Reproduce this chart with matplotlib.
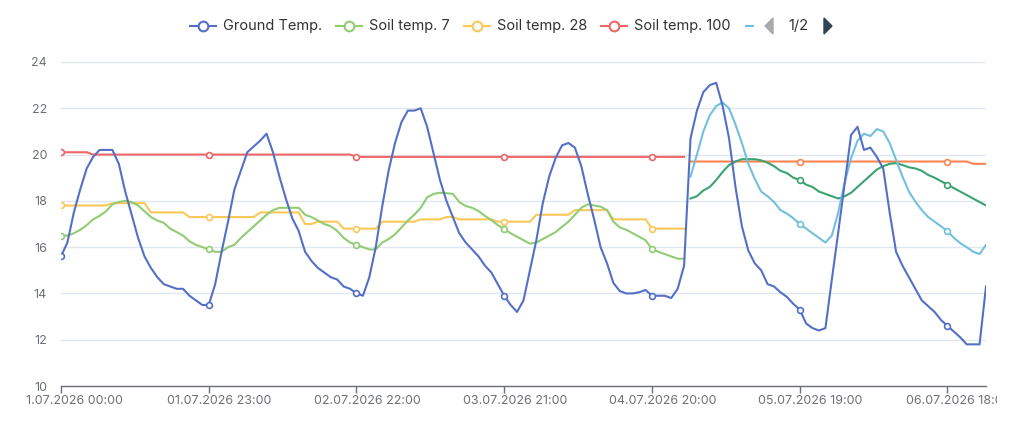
import matplotlib
matplotlib.use('Agg')
import matplotlib.pyplot as plt
from matplotlib.transforms import Bbox
import numpy as np

# hourly samples, 01.07.2026 00:00 .. 07.07.2026 00:00
tick_labels = ['1.07.2026 00:00', '01.07.2026 23:00', '02.07.2026 22:00', '03.07.2026 21:00',
               '04.07.2026 20:00', '05.07.2026 19:00', '06.07.2026 18:00']

ground_temp = [15.6, 16.2, 17.5, 18.5, 19.4, 19.9, 20.2, 20.2, 20.2, 19.6, 18.4, 17.4, 16.4, 15.6, 15.1, 14.7,
               14.4, 14.3, 14.2, 14.2, 13.9, 13.7, 13.5, 13.5, 14.4, 15.8, 17.1, 18.5, 19.3, 20.1, 20.35, 20.6,
               20.9, 20.1, 19.05, 18.1, 17.25, 16.7, 15.8, 15.4, 15.1, 14.9, 14.7, 14.6, 14.3, 14.2, 14.0, 13.9,
               14.7, 16.0, 17.75, 19.3, 20.5, 21.4, 21.9, 21.9, 22.0, 21.2, 20.05, 18.9, 18.0, 17.3, 16.6, 16.2,
               15.9, 15.6, 15.2, 14.9, 14.4, 13.9, 13.5, 13.2, 13.7, 15.0, 16.3, 17.9, 19.05, 19.85, 20.4, 20.5,
               20.3, 19.5, 18.3, 17.2, 16.0, 15.3, 14.45, 14.1, 14.0, 14.0, 14.05, 14.15, 13.9, 13.9, 13.9, 13.8,
               14.2, 15.2, 20.7, 21.9, 22.7, 23.0, 23.1, 22.1, 20.7, 18.6, 16.9, 15.85, 15.3, 15.0, 14.4, 14.3,
               14.05, 13.85, 13.55, 13.3, 12.7, 12.5, 12.4, 12.5, 14.6, 16.65, 18.75, 20.85, 21.2, 20.2, 20.3, 19.9,
               19.4, 17.5, 15.8, 15.2, 14.7, 14.2, 13.7, 13.45, 13.2, 12.85, 12.6, 12.35, 12.1, 11.8, 11.8, 11.8,
               14.3]

soil_7 = [16.5, 16.5, 16.6, 16.75, 16.95, 17.2, 17.35, 17.55, 17.85, 17.95, 18.0, 17.95, 17.8, 17.55, 17.3, 17.15,
          17.05, 16.8, 16.65, 16.5, 16.25, 16.1, 16.0, 15.9, 15.8, 15.8, 16.0, 16.1, 16.4, 16.65, 16.9, 17.15,
          17.4, 17.6, 17.7, 17.7, 17.7, 17.7, 17.4, 17.3, 17.15, 17.0, 16.9, 16.7, 16.4, 16.2, 16.1, 16.0,
          15.9, 15.9, 16.2, 16.35, 16.55, 16.85, 17.15, 17.4, 17.7, 18.15, 18.3, 18.35, 18.33, 18.3, 17.95, 17.78,
          17.7, 17.56, 17.35, 17.17, 16.95, 16.78, 16.6, 16.45, 16.3, 16.15, 16.2, 16.35, 16.5, 16.65, 16.88, 17.1,
          17.4, 17.7, 17.85, 17.8, 17.75, 17.6, 17.1, 16.85, 16.75, 16.6, 16.45, 16.3, 15.92, 15.8, 15.7, 15.6,
          15.5, 15.5]

soil_28 = [17.8] * 8 + [17.9] * 6 + [17.5] * 6 + [17.3] * 11 + [17.5] * 7 + [17.0] * 2 + [17.1] * 4 + \
          [16.8] * 6 + [17.1] * 6 + [17.2] * 4 + [17.3] * 2 + [17.2] * 6 + [17.1] * 6 + [17.4] * 6 + \
          [17.6] * 6 + [17.2] * 6 + [16.8] * 6

soil_100 = [20.1] * 5 + [20.0] * 41 + [19.9] * 52

# second block (from index 98 on)
fc_start = 98
fc_light = [19.05, 20.0, 21.0, 21.7, 22.1, 22.25, 22.0, 21.3, 20.5, 19.6, 18.95, 18.4, 18.2, 17.95, 17.6, 17.45,
            17.25, 17.0, 16.8, 16.6, 16.4, 16.2, 16.5, 17.5, 18.8, 19.85, 20.6, 20.9, 20.8, 21.1, 21.0, 20.5,
            19.77, 19.05, 18.4, 17.97, 17.6, 17.3, 17.1, 16.9, 16.7, 16.4, 16.17, 16.0, 15.8, 15.7, 16.1]
fc_green = [18.1, 18.2, 18.45, 18.6, 18.9, 19.25, 19.55, 19.7, 19.8, 19.8, 19.8, 19.75, 19.65, 19.5, 19.3, 19.2,
            19.0, 18.9, 18.7, 18.6, 18.4, 18.3, 18.2, 18.1, 18.2, 18.35, 18.6, 18.85, 19.1, 19.35, 19.5, 19.6,
            19.63, 19.55, 19.45, 19.4, 19.3, 19.12, 19.0, 18.85, 18.7, 18.55, 18.4, 18.25, 18.1, 17.95, 17.8]
fc_orange = [19.7] * 44 + [19.6] * 3

blue = '#5470c6'
green = '#91cc75'
yellow = '#fac858'
red = '#ee6666'
cyan = '#73c0de'
dgreen = '#3ba272'
orange = '#fc8452'
txt = '#6e7079'

plt.rcParams['font.family'] = ['Inter', 'DejaVu Sans']

W, H = 1024, 423
fig = plt.figure(figsize=(W / 100, H / 100), dpi=100)
ax = fig.add_axes([61 / W, (H - 386) / H, 925 / W, 324 / H])
ax.set_xlim(0, 144)
ax.set_ylim(10, 24)


def draw(vals, start, color):
    x = np.arange(len(vals)) + start
    marks = [k for k in range(len(vals)) if x[k] % 23 == 0]
    ax.plot(x, vals, color=color, lw=1.5, solid_joinstyle='round', zorder=3,
            marker='o', markevery=marks, markersize=4.2, markerfacecolor='white',
            markeredgecolor=color, markeredgewidth=1.2)


draw(soil_100, 0, red)
draw(soil_28, 0, yellow)
draw(soil_7, 0, green)
draw(fc_orange, fc_start, orange)
draw(fc_green, fc_start, dgreen)
draw(fc_light, fc_start, cyan)
draw(ground_temp, 0, blue)

for s in ['top', 'right', 'left']:
    ax.spines[s].set_visible(False)
ax.spines['bottom'].set_color(txt)
ax.spines['bottom'].set_linewidth(1)
ax.set_yticks(range(10, 25, 2))
ax.yaxis.grid(True, color='#e0e6f1', lw=1)
ax.set_axisbelow(True)
ax.tick_params(axis='y', length=0, pad=10, labelsize=9, labelcolor=txt)
ax.set_xticks(range(0, 144, 23))
ax.set_xticklabels([])
ax.tick_params(axis='x', length=5, width=1, color=txt, direction='out')

# x labels (first one sits right of its tick, last one clipped by the frame)
clip = Bbox.from_extents(0, 0, 997, H)
for k, lab in enumerate(tick_labels):
    xpix = 61 + 925 * (23 * k) / 144 + 10.5
    if k == 0:
        t = fig.text(26 / W, 1 - 401 / H, lab, ha='left', va='center', fontsize=9, color=txt)
    else:
        t = fig.text(xpix / W, 1 - 401 / H, lab, ha='center', va='center', fontsize=9, color=txt)
    t.set_clip_box(clip)
    t.set_clip_on(True)

# legend (page 1 of 2)
ly = 1 - 26 / H
items = [('Ground Temp.', blue, 203), ('Soil temp. 7', green, 349),
         ('Soil temp. 28', yellow, 477), ('Soil temp. 100', red, 614)]
for name, col, cx in items:
    fig.add_artist(plt.Line2D([(cx - 13) / W, (cx + 13) / W], [ly, ly], color=col, lw=1.5))
    fig.add_artist(plt.Line2D([cx / W], [ly], marker='o', markersize=7, markerfacecolor='white',
                              markeredgecolor=col, markeredgewidth=1.5))
    fig.text((cx + 20) / W, ly, name, ha='left', va='center', fontsize=10.5, color='#333333')
fig.add_artist(plt.Line2D([746 / W, 753 / W], [ly, ly], color=cyan, lw=1.5))
fig.add_artist(plt.Polygon([[765 / W, ly], [773 / W, ly + 8 / H], [773 / W, ly - 8 / H]],
                           closed=True, color='#aaaaaa'))
fig.text(798 / W, ly, '1/2', ha='center', va='center', fontsize=10.5, color='#333333')
fig.add_artist(plt.Polygon([[832 / W, ly], [824 / W, ly + 8 / H], [824 / W, ly - 8 / H]],
                           closed=True, color='#2f4554'))

fig.savefig('out.png', dpi=100)
